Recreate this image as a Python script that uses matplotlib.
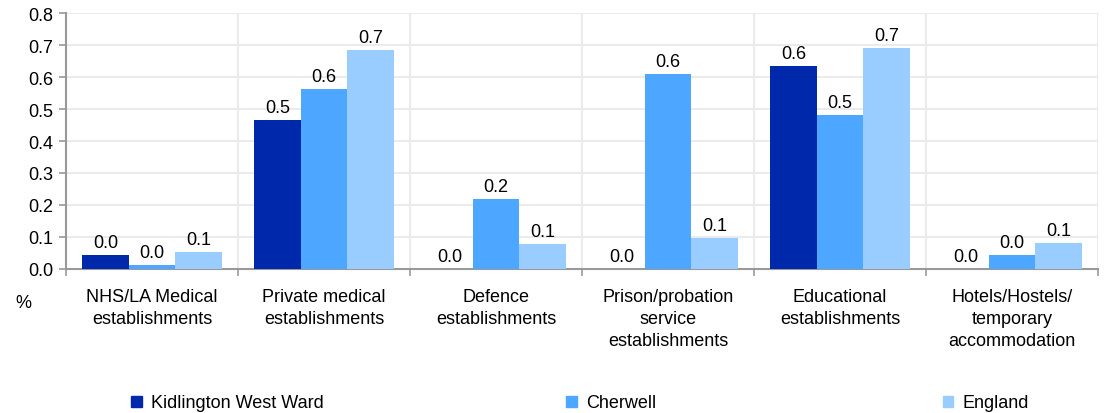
import numpy as np
import matplotlib.pyplot as plt

plt.rcParams['font.family'] = ['Liberation Sans', 'DejaVu Sans']

categories = ['NHS/LA Medical\nestablishments', 'Private medical\nestablishments',
              'Defence\nestablishments', 'Prison/probation\nservice\nestablishments',
              'Educational\nestablishments', 'Hotels/Hostels/\ntemporary\naccommodation']
series_names = ['Kidlington West Ward', 'Cherwell', 'England']
kidlington = [0.044, 0.466, 0.0, 0.0, 0.634, 0.0]
cherwell = [0.013, 0.563, 0.219, 0.609, 0.481, 0.044]
england = [0.052, 0.684, 0.078, 0.097, 0.690, 0.081]
colors = ['#0028AA', '#4DA6FF', '#99CCFF']

fs = 13
fig = plt.figure(figsize=(11.04, 4.14), dpi=100)
ax = fig.add_axes([0.0598, 0.348, 0.9348, 0.618])

x = np.arange(len(categories))
w = 0.27
for i, (vals, name, col) in enumerate(zip([kidlington, cherwell, england], series_names, colors)):
    ax.bar(x + (i - 1) * w, vals, w, color=col, label=name, zorder=3)
    for xi, v in zip(x + (i - 1) * w, vals):
        ax.text(xi, v + 0.012, f'{v:.1f}', ha='center', va='bottom', fontsize=fs, zorder=4)

ax.set_xlim(-0.5, len(categories) - 0.5)
ax.set_ylim(0, 0.8)
yt = np.arange(0, 0.81, 0.1)
ax.set_yticks(yt)
ax.set_yticklabels([f'{t:.1f}' for t in yt], fontsize=fs)

# category boundaries as ticks / vertical grid
ax.set_xticks(np.arange(-0.5, len(categories), 1.0))
ax.set_xticklabels([])
ax.tick_params(axis='x', length=5, color='#999999', width=1.2)
ax.tick_params(axis='y', length=5, color='#999999', width=1.2, pad=4)
for xi, lab in zip(x, categories):
    ax.text(xi, -0.075, lab, ha='center', va='top', fontsize=fs,
            transform=ax.get_xaxis_transform(), linespacing=1.38)

ax.grid(True, color='#E8E8E8', linewidth=1.2, zorder=0)
for s in ['top', 'right']:
    ax.spines[s].set_visible(False)
for s in ['left', 'bottom']:
    ax.spines[s].set_color('#999999')
    ax.spines[s].set_linewidth(1.5)

fig.text(0.014, 0.268, '%', fontsize=fs, ha='left', va='center')

# legend entries spread across the bottom
leg_x = [0.119, 0.513, 0.854]
for lx, name, col in zip(leg_x, series_names, colors):
    fig.patches.append(plt.Rectangle((lx, 0.015), 0.0095, 0.026, color=col,
                                     transform=fig.transFigure, figure=fig))
    fig.text(lx + 0.0175, 0.026, name, fontsize=fs, ha='left', va='center')

fig.savefig('out.png', dpi=100)
